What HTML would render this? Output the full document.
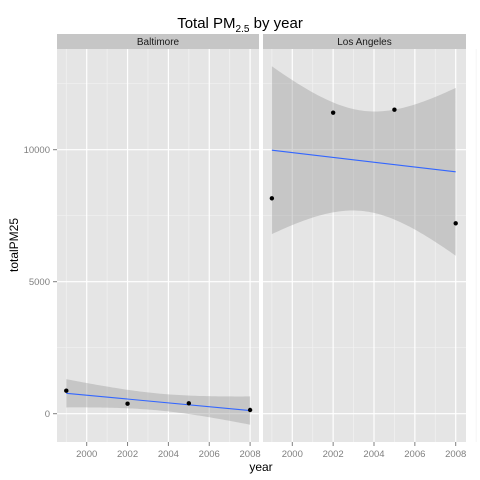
<!DOCTYPE html>
<html><head><meta charset="utf-8"><style>
body{margin:0;background:#fff;}
svg{display:block;font-family:"Liberation Sans",sans-serif;}
</style></head><body>
<svg id="c" width="480" height="480"></svg>
<script>
const years=[1999,2002,2005,2008];
const baltimore=[871,379,394,140];
const losAngeles=[8159,11402,11515,7212];
const xTicks=[2000,2002,2004,2006,2008];
const yTicks=[0,5000,10000];
const panels=[{name:'Baltimore',vals:baltimore,x0:57,x1:259,x2000:86.7,bs:1},{name:'Los Angeles',vals:losAngeles,x0:263,x1:466,x2000:292.3,bs:0.33}];
const NS='http://www.w3.org/2000/svg';
const svg=document.getElementById('c');
function el(t,a,p){const e=document.createElementNS(NS,t);for(const k in a)e.setAttribute(k,a[k]);(p||svg).appendChild(e);return e;}
const yTop=49,yBot=442;
const y=v=>413.7-v*0.0264;
const tq=4.303;
let t=el('text',{x:240,y:28,'text-anchor':'middle','font-size':15,fill:'#000'});

t.innerHTML='Total PM<tspan font-size="10" dy="4">2.5</tspan><tspan dy="-4"> by year</tspan>';
panels.forEach((p,pi)=>{
  const x=yr=>p.x2000+(yr-2000)*20.425;
  const g=el('g',{});
  
  
  const cid='clip'+pi;
  const cp=el('clipPath',{id:cid},g);el('rect',{x:p.x0,y:yTop,width:p.x1-p.x0,height:yBot-yTop},cp);
  el('rect',{x:p.x0,y:34,width:p.x1-p.x0,height:15,fill:'#c6c6c6'},g);
  let st=el('text',{x:(p.x0+p.x1)/2,y:45,'text-anchor':'middle','font-size':10,fill:'#1a1a1a'},g);
  st.textContent=p.name;
  el('rect',{x:p.x0,y:yTop,width:p.x1-p.x0,height:yBot-yTop,fill:'#e5e5e5'},g);
  for(let v=2500;v<=12500;v+=5000)el('line',{x1:p.x0,x2:p.x1,y1:y(v),y2:y(v),stroke:'#f2f2f2','stroke-width':0.7},g);
  for(let yr=1999;yr<=2009;yr+=2)el('line',{x1:x(yr),x2:x(yr),y1:yTop,y2:yBot,stroke:'#f2f2f2','stroke-width':0.7},g);
  yTicks.forEach(v=>el('line',{x1:p.x0,x2:p.x1,y1:y(v),y2:y(v),stroke:'#fff','stroke-width':1.2},g));
  xTicks.forEach(v=>el('line',{x1:x(v),x2:x(v),y1:yTop,y2:yBot,stroke:'#fff','stroke-width':1.2},g));
  const n=years.length,mx=years.reduce((a,b)=>a+b)/n,my=p.vals.reduce((a,b)=>a+b)/n;
  let sxx=0,sxy=0;years.forEach((xx,i)=>{sxx+=(xx-mx)**2;sxy+=(xx-mx)*(p.vals[i]-my);});
  const b=sxy/sxx,a=my-b*mx;let sse=0;years.forEach((xx,i)=>{sse+=(p.vals[i]-a-b*xx)**2;});
  const s=Math.sqrt(sse/(n-2))*p.bs;
  const up=[],lo=[];
  for(let k=0;k<=80;k++){const xx=1999+9*k/80,f=a+b*xx,se=s*Math.sqrt(1/n+(xx-mx)**2/sxx);
    up.push(x(xx).toFixed(2)+','+y(f+tq*se).toFixed(2));lo.unshift(x(xx).toFixed(2)+','+y(f-tq*se).toFixed(2));}
  const band=el('polygon',{points:up.concat(lo).join(' '),fill:'#999','fill-opacity':0.4,'clip-path':'url(#'+cid+')'},g);
  
  const ln=el('line',{x1:x(1999),y1:y(a+b*1999),x2:x(2008),y2:y(a+b*2008),stroke:'#3366ff','stroke-width':1.1},g);
  
  years.forEach((yr,i)=>{const c=el('circle',{cx:x(yr),cy:y(p.vals[i]),r:2.2,fill:'#000'},g);
    });
  xTicks.forEach(v=>{el('line',{x1:x(v),x2:x(v),y1:yBot,y2:yBot+4,stroke:'#7f7f7f'},g);
    const tl=el('text',{x:x(v),y:yBot+15,'text-anchor':'middle','font-size':9.5,fill:'#7f7f7f'},g);
    tl.textContent=v;});
});
yTicks.forEach(v=>{el('line',{x1:53,x2:57,y1:y(v),y2:y(v),stroke:'#7f7f7f'});
  const tl=el('text',{x:50,y:y(v)+3.5,'text-anchor':'end','font-size':9.5,fill:'#7f7f7f'});
  tl.textContent=v;});
let xt=el('text',{x:261,y:471,'text-anchor':'middle','font-size':12,fill:'#000'});
xt.textContent='year';
let yt=el('text',{x:18,y:245,'text-anchor':'middle','font-size':12,fill:'#000',transform:'rotate(-90 18 245)'});
yt.textContent='totalPM25';
</script>
</body></html>
